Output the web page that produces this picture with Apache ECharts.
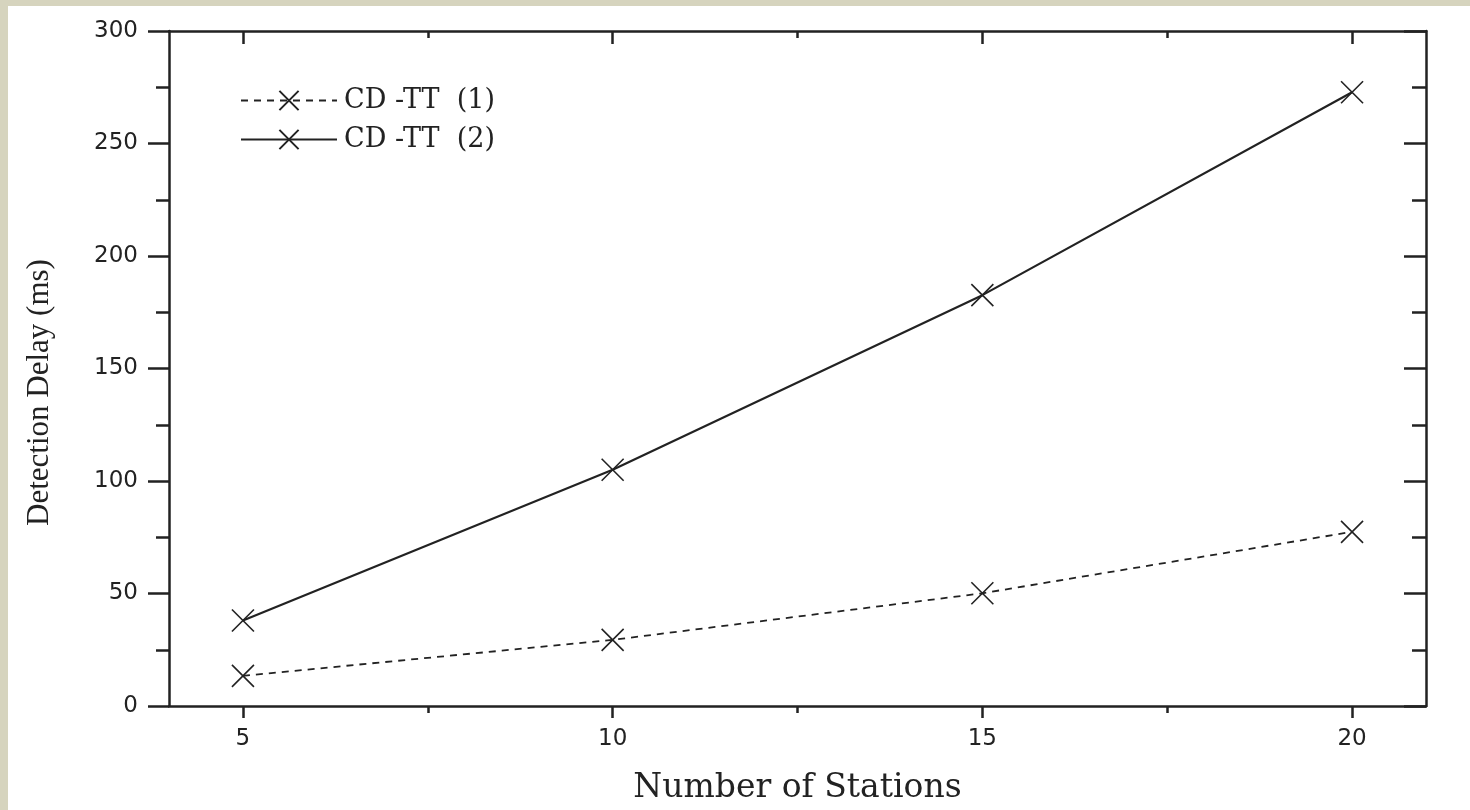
<!DOCTYPE html>
<html>
<head>
<meta charset="utf-8">
<script src="https://cdn.jsdelivr.net/npm/echarts@6/dist/echarts.min.js"></script>
<style>
  html, body { margin: 0; padding: 0; width: 1470px; height: 810px; background: #d6d4be; overflow: hidden; }
  #chart { position: absolute; left: 8px; top: 6px; width: 1462px; height: 804px; background: #ffffff; }
</style>
</head>
<body>
<div id="chart"></div>
<script>
const stations = [5, 10, 15, 20];
const cdtt1 = [13.4, 29.4, 50.1, 77.4];
const cdtt2 = [38.0, 105.0, 182.6, 272.8];
const seriesNames = ['CD -TT  (1)', 'CD -TT  (2)'];
const xMajorTicks = [5, 10, 15, 20];
const xMinorTicks = [7.5, 12.5, 17.5];
const xTitle = 'Number of Stations';
const yTitle = 'Detection Delay (ms)';

const ink = '#222222';
const crossSymbol = 'path://M0,0L10,10M10,0L0,10';

function pairs(xs, ys) { return xs.map((x, i) => [x, ys[i]]); }

const chart = echarts.init(document.getElementById('chart'));
const baseX = { type: 'value', min: 4, max: 21, splitLine: { show: false } };
const baseY = { type: 'value', min: 0, max: 300, interval: 50, splitLine: { show: false } };

chart.setOption({
  animation: false,
  backgroundColor: '#ffffff',
  grid: { left: 161, top: 25, right: 44, bottom: 102, containLabel: false },
  legend: {
    left: 227, top: 76, orient: 'vertical',
    itemWidth: 96, itemHeight: 24, itemGap: 12,
    textStyle: { fontFamily: 'DejaVu Serif', fontSize: 27, color: ink, padding: [0, 0, 0, 2] },
    data: seriesNames
  },
  xAxis: [
    Object.assign({}, baseX, {
      position: 'bottom',
      name: xTitle, nameLocation: 'middle', nameGap: 66,
      nameTextStyle: { fontFamily: 'DejaVu Serif', fontSize: 33, color: ink },
      axisLine: { show: true, lineStyle: { color: ink, width: 2.5 } },
      axisTick: { show: true, inside: false, length: 12, customValues: xMajorTicks, lineStyle: { color: ink, width: 2.5 } },
      axisLabel: { show: true, margin: 22, customValues: xMajorTicks, fontFamily: 'DejaVu Sans', fontSize: 23, color: ink }
    }),
    Object.assign({}, baseX, {
      position: 'bottom',
      axisLine: { show: false },
      axisTick: { show: true, inside: false, length: 7, customValues: xMinorTicks, lineStyle: { color: ink, width: 2.5 } },
      axisLabel: { show: false }
    }),
    Object.assign({}, baseX, {
      position: 'top',
      axisLine: { show: true, lineStyle: { color: ink, width: 2.5 } },
      axisTick: { show: true, inside: true, length: 13, customValues: xMajorTicks, lineStyle: { color: ink, width: 2.5 } },
      axisLabel: { show: false }
    }),
    Object.assign({}, baseX, {
      position: 'top',
      axisLine: { show: false },
      axisTick: { show: true, inside: true, length: 7, customValues: xMinorTicks, lineStyle: { color: ink, width: 2.5 } },
      axisLabel: { show: false }
    })
  ],
  yAxis: [
    Object.assign({}, baseY, {
      position: 'left',
      name: yTitle, nameLocation: 'middle', nameGap: 114,
      nameTextStyle: { fontFamily: 'Liberation Serif', fontSize: 31, color: ink, padding: [0, 48, 0, 0] },
      axisLine: { show: true, lineStyle: { color: ink, width: 2.5 } },
      axisTick: { show: true, inside: false, length: 21, lineStyle: { color: ink, width: 2.5 } },
      minorTick: { show: true, splitNumber: 2, length: 13, lineStyle: { color: ink, width: 2.5 } },
      axisLabel: { show: true, margin: 31, fontFamily: 'DejaVu Sans', fontSize: 23, color: ink }
    }),
    Object.assign({}, baseY, {
      position: 'right',
      axisLine: { show: true, lineStyle: { color: ink, width: 2.5 } },
      axisTick: { show: true, inside: true, length: 22, lineStyle: { color: ink, width: 2.5 } },
      minorTick: { show: true, splitNumber: 2, length: 14, lineStyle: { color: ink, width: 2.5 } },
      axisLabel: { show: false }
    })
  ],
  series: [
    {
      name: seriesNames[0], type: 'line', xAxisIndex: 0, yAxisIndex: 0,
      data: pairs(stations, cdtt1),
      symbol: crossSymbol, symbolSize: 22,
      itemStyle: { color: 'rgba(0,0,0,0)', borderColor: ink, borderWidth: 1.6 },
      lineStyle: { color: ink, width: 1.8, type: [7, 6] },
      emphasis: { disabled: true }
    },
    {
      name: seriesNames[1], type: 'line', xAxisIndex: 0, yAxisIndex: 0,
      data: pairs(stations, cdtt2),
      symbol: crossSymbol, symbolSize: 22,
      itemStyle: { color: 'rgba(0,0,0,0)', borderColor: ink, borderWidth: 1.6 },
      lineStyle: { color: ink, width: 2.2, type: 'solid' },
      emphasis: { disabled: true }
    }
  ]
});
</script>
</body>
</html>
